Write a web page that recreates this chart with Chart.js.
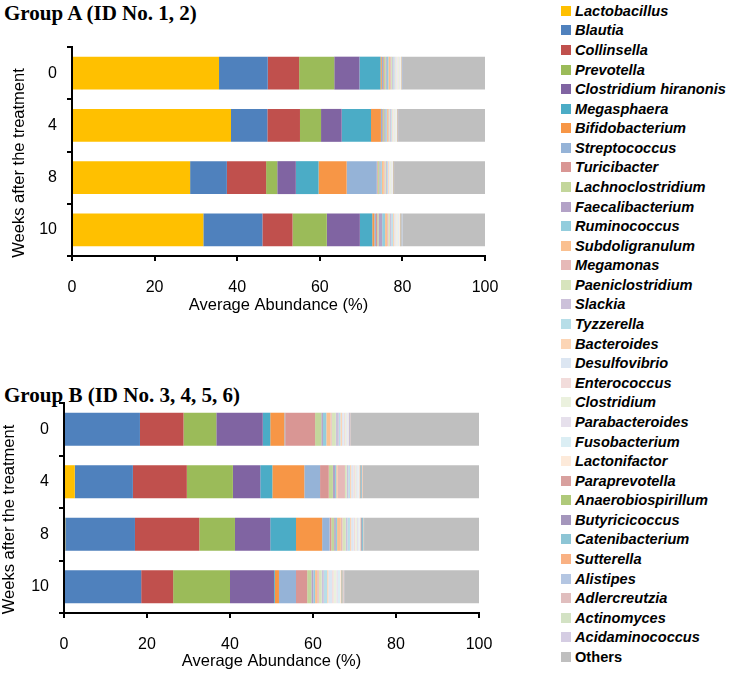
<!DOCTYPE html>
<html>
<head>
<meta charset="utf-8">
<script src="https://cdn.jsdelivr.net/npm/chart.js@4/dist/chart.umd.min.js"></script>
<style>
  body { margin: 0; width: 734px; height: 684px; position: relative; background: #fff; overflow: hidden; }
  .title { position: absolute; left: 4px; font: bold 21px "Liberation Serif", "Times New Roman", serif; color: #000; white-space: nowrap; }
  canvas { position: absolute; left: 0; }
  #legend { position: absolute; left: 561px; top: 1px; }
  .item { height: 19.58px; display: flex; align-items: center; font: italic bold 14.6px "Liberation Sans", Arial, sans-serif; color: #000; white-space: nowrap; }
  .item.plain { font-style: normal; }
  .sw { width: 10px; height: 10px; margin-right: 4px; flex: none; }
</style>
</head>
<body>
<div class="title" style="top:1px">Group A (ID No. 1, 2)</div>
<canvas id="chartA" width="505" height="284" style="top:36px"></canvas>
<div class="title" style="top:383px">Group B (ID No. 3, 4, 5, 6)</div>
<canvas id="chartB" width="505" height="294" style="top:390px"></canvas>
<div id="legend"></div>
<script>
const weeks = ["0", "4", "8", "10"];

const taxa = ["Lactobacillus", "Blautia", "Collinsella", "Prevotella", "Clostridium hiranonis",
  "Megasphaera", "Bifidobacterium", "Streptococcus", "Turicibacter", "Lachnoclostridium",
  "Faecalibacterium", "Ruminococcus", "Subdoligranulum", "Megamonas", "Paeniclostridium",
  "Slackia", "Tyzzerella", "Bacteroides", "Desulfovibrio", "Enterococcus", "Clostridium",
  "Parabacteroides", "Fusobacterium", "Lactonifactor", "Paraprevotella", "Anaerobiospirillum",
  "Butyricicoccus", "Catenibacterium", "Sutterella", "Alistipes", "Adlercreutzia",
  "Actinomyces", "Acidaminococcus", "Others"];

const taxaColors = ["#FFC000", "#4F81BD", "#C0504D", "#9BBB59", "#8064A2",
  "#4BACC6", "#F79646", "#95B3D7", "#D99694", "#C3D69B",
  "#B3A2C7", "#93CDDD", "#FAC090", "#E6B9B8", "#D7E4BD",
  "#CCC1DA", "#B7DEE8", "#FCD5B5", "#DCE6F2", "#F2DCDB", "#EBF1DE",
  "#E6E0EC", "#DBEEF4", "#FDEADA", "#D8A09E", "#AFC97A",
  "#A496BC", "#8DC5D5", "#F9B183", "#B4C6E2", "#E0BEBE",
  "#D3E2C4", "#D5CDE3", "#BFBFBF"];

// average abundance (%) per week, in the order of taxa
const groupA_w0 = [35.6, 11.8, 7.6, 8.5, 6.1, 5.1, 0.3, 0.3, 0.2, 0.4, 0.3, 0.4, 0.4, 0.2, 0.3, 0.3, 0.3,
  0.2, 0.3, 0.2, 0.4, 0.2, 0.1, 0.2, 0.1, 0.1, 0.1, 0.1, 0, 0, 0, 0, 0, 19.9];
const groupA_w4 = [38.5, 8.8, 7.9, 5.1, 5.0, 7.1, 2.4, 0.3, 0.2, 0.3, 0.3, 0.3, 0.3, 0.2, 0.2, 0.3, 0.2,
  0.2, 0.2, 0.1, 0.4, 0.2, 0.1, 0.1, 0.1, 0.1, 0.1, 0, 0, 0, 0, 0, 0, 21.0];
const groupA_w8 = [28.6, 8.9, 9.5, 2.7, 4.5, 5.5, 6.8, 7.3, 0.2, 0.4, 0.3, 0.3, 0.5, 0.2, 0.3, 0.3, 0.2,
  0.2, 0.2, 0.1, 0.3, 0.2, 0.1, 0.1, 0.1, 0.1, 0.1, 0, 0, 0, 0, 0, 0, 22.0];
const groupA_w10 = [31.8, 14.3, 7.3, 8.3, 8.0, 3.0, 0.5, 0.4, 0.3, 0.3, 0.9, 0.7, 0.5, 0.3, 0.4, 0.3, 0.4,
  0.3, 0.3, 0.2, 0.3, 0.2, 0.2, 0.2, 0.1, 0.1, 0.1, 0.1, 0.1, 0.1, 0, 0, 0, 20.0];

const groupB_w0 = [0, 18.3, 10.5, 7.9, 11.2, 1.8, 3.4, 0.2, 7.2, 1.5, 0.4, 0.8, 1.0, 0.3, 1.0, 0.7, 0.4,
  0.4, 0.4, 0.3, 0.3, 0.3, 0.2, 0.1, 0.1, 0, 0.1, 0, 0, 0.1, 0.1, 0, 0, 31.0];
const groupB_w4 = [2.6, 14.0, 13.0, 11.1, 6.6, 2.9, 7.7, 3.8, 2.1, 1.0, 0.5, 0.3, 0.3, 1.8, 0.4, 0.4, 0.4,
  0.3, 0.5, 0.4, 0.3, 0.3, 0.3, 0.2, 0.1, 0.1, 0.2, 0.2, 0.1, 0, 0.1, 0, 0, 28.0];
const groupB_w8 = [0.3, 16.8, 15.5, 8.6, 8.5, 6.2, 6.3, 1.8, 0.4, 0.7, 0.4, 0.3, 0.9, 0.4, 0.8, 0.4, 0.6,
  0.3, 0.6, 0.4, 0.4, 0.3, 0.3, 0.2, 0.1, 0.1, 0.2, 0.3, 0.1, 0.1, 0, 0, 0, 27.7];
const groupB_w10 = [0, 18.6, 7.7, 13.7, 10.6, 0.2, 1.0, 4.1, 2.7, 1.0, 0.5, 0.4, 0.5, 0.4, 0.7, 0.5, 0.8,
  0.3, 0.9, 0.4, 0.6, 0.4, 0.5, 0.2, 0.1, 0.1, 0.1, 0.1, 0.2, 0.1, 0, 0, 0.1, 32.5];

const xTicks = [0, 20, 40, 60, 80, 100];

const axisFont = { family: "'Liberation Sans', Arial, sans-serif", size: 16 };
const titleFont = { family: "'Liberation Sans', Arial, sans-serif", size: 16.5 };

function makeChart(id, rows, yWidth, xHeight, pad, yTitlePad, xTitlePad) {
  const datasets = taxa.map((name, i) => ({
    label: name,
    data: rows.map(r => r[i]),
    backgroundColor: taxaColors[i],
    borderWidth: 0,
    barPercentage: 0.63,
    categoryPercentage: 1
  }));

  return new Chart(document.getElementById(id).getContext("2d"), {
    type: "bar",
    data: { labels: weeks, datasets },
    options: {
      indexAxis: "y",
      responsive: false,
      animation: false,
      layout: { padding: pad },
      plugins: { legend: { display: false }, tooltip: { enabled: false } },
      scales: {
        x: {
          stacked: true, min: 0, max: 100,
          afterBuildTicks: s => { s.ticks = xTicks.map(v => ({ value: v })); },
          ticks: { color: "#000", font: axisFont, padding: 17, maxRotation: 0 },
          grid: { drawOnChartArea: false, drawTicks: true, tickLength: 5, color: "#000", lineWidth: 2 },
          border: { color: "#000", width: 2 },
          title: { display: true, text: "Average Abundance (%)", color: "#000", font: titleFont, padding: { top: 0, bottom: xTitlePad } },
          afterFit: s => { s.height = xHeight; s.paddingLeft = 0; s.paddingRight = 0; }
        },
        y: {
          stacked: true,
          ticks: { color: "#000", font: axisFont, padding: 10 },
          grid: { offset: true, drawOnChartArea: false, drawTicks: true, tickLength: 5, color: "#000", lineWidth: 2 },
          border: { color: "#000", width: 2 },
          // trailing spaces nudge the rotated title a little lower, as in the original
          title: { display: true, text: "Weeks after the treatment     ", color: "#000", font: titleFont, padding: { top: yTitlePad, bottom: 0 } },
          afterFit: s => { s.width = yWidth; s.paddingTop = 0; s.paddingBottom = 0; }
        }
      }
    }
  });
}

makeChart("chartA", [groupA_w0, groupA_w4, groupA_w8, groupA_w10], 72, 64,
  { top: 11, right: 20, left: 0, bottom: 0 }, 10, 5);
makeChart("chartB", [groupB_w0, groupB_w4, groupB_w8, groupB_w10], 64, 71,
  { top: 13, right: 26, left: 0, bottom: 0 }, 0, 13);

// legend down the right side
const legend = document.getElementById("legend");
taxa.forEach((name, i) => {
  const item = document.createElement("div");
  item.className = name === "Others" ? "item plain" : "item";
  const sw = document.createElement("div");
  sw.className = "sw";
  sw.style.background = taxaColors[i];
  item.appendChild(sw);
  item.appendChild(document.createTextNode(name));
  legend.appendChild(item);
});
</script>
</body>
</html>
